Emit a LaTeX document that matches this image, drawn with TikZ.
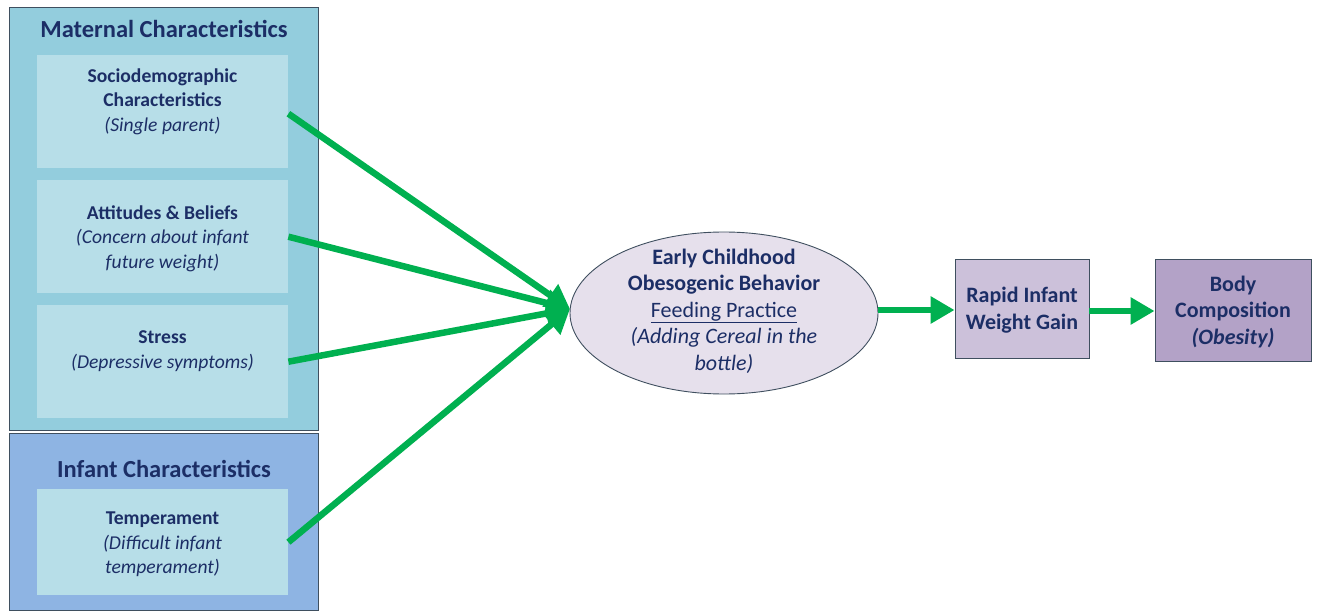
\documentclass[tikz,border=0pt]{standalone}
\usepackage{fontspec}
\setmainfont{Carlito}
\usetikzlibrary{shapes.geometric,arrows.meta}
\definecolor{navy}{HTML}{1C2E66}
\definecolor{matfill}{HTML}{93CDDD}
\definecolor{inner}{HTML}{B7DEE8}
\definecolor{inffill}{HTML}{8EB4E3}
\definecolor{ellfill}{HTML}{E6E0EC}
\definecolor{rapfill}{HTML}{CCC1DA}
\definecolor{bodyfill}{HTML}{B3A2C7}
\definecolor{edge}{HTML}{3F4F5F}
\definecolor{arrowgreen}{HTML}{00B050}
\tikzset{
  outerbox/.style={draw=edge, line width=0.9pt, inner sep=0pt, anchor=north west},
  innerbox/.style={fill=inner, inner sep=0pt, minimum width=251pt, anchor=north west},
  txt/.style={text=navy, align=center, font=\fontsize{19.6}{24.5}\selectfont},
  bigtxt/.style={txt, font=\fontsize{22}{26.5}\selectfont},
  title/.style={text=navy, font=\fontsize{24.5}{28}\selectfont\bfseries},
  garrow/.style={draw=arrowgreen, line width=6.5pt, -{Triangle[length=24pt,width=26pt]}, shorten >=0pt},
  purplebox/.style={draw=edge, line width=0.9pt, inner sep=0pt}
}
\begin{document}
\begin{tikzpicture}[x=1pt,y=-1pt]
\useasboundingbox (0,0) rectangle (1319,612);
% outer boxes
\node[outerbox, fill=matfill, minimum width=309pt, minimum height=423pt] (mat) at (9,7) {};
\node[outerbox, fill=inffill, minimum width=309pt, minimum height=177pt] (inf) at (9,433) {};
\node[title] (mattitle) at (164,29) {Maternal Characteristics};
\node[title] (inftitle) at (164,469) {Infant Characteristics};
% inner boxes
\node[innerbox, minimum height=113pt] (b1) at (37,55) {};
\node[innerbox, minimum height=113pt] (b2) at (37,180) {};
\node[innerbox, minimum height=113pt] (b3) at (37,305) {};
\node[innerbox, minimum height=106pt] (b4) at (37,489) {};
\node[txt] (t1) at (162.5,101.5) {\textbf{Sociodemographic}\\\textbf{Characteristics}\\\textit{(Single parent)}};
\node[txt] (t2) at (162.5,238.5) {\textbf{Attitudes \& Beliefs}\\\textit{(Concern about infant}\\\textit{future weight)}};
\node[txt] (t3) at (162.5,351) {\textbf{Stress}\\\textit{(Depressive symptoms)}};
\node[txt] (t4) at (162.5,544.5) {\textbf{Temperament}\\\textit{(Difficult infant}\\\textit{temperament)}};
% ellipse
\node[ellipse, draw=edge, line width=0.9pt, fill=ellfill, minimum width=308pt, minimum height=162pt, inner sep=0pt] (ell) at (724,313) {};
\node[bigtxt] (te) at (724,311) {\textbf{Early Childhood}\\\textbf{Obesogenic Behavior}\\\underline{Feeding Practice}\\\textit{(Adding Cereal in the}\\\textit{bottle)}};
% right boxes
\node[purplebox, fill=rapfill, minimum width=134pt, minimum height=99pt] (rap) at (1022,308.5) {};
\node[bigtxt] (trap) at (1022,310) {\textbf{Rapid Infant}\\\textbf{Weight Gain}};
\node[purplebox, fill=bodyfill, minimum width=156pt, minimum height=102pt] (body) at (1233,310) {};
\node[bigtxt] (tbody) at (1233,312) {\textbf{Body}\\\textbf{Composition}\\\textbf{\textit{(Obesity)}}};
% arrows
\coordinate (tip) at (570,309);
\draw[garrow] (b1.east) ++(0,2) -- (tip);
\draw[garrow] (b2.east) -- (tip);
\draw[garrow] (b3.east) -- (tip);
\draw[garrow] (b4.east) -- (tip);
\draw[garrow] (ell.east |- 0,310) -- (rap.west |- 0,310);
\draw[garrow] (rap.east |- 0,311) -- (body.west |- 0,311);
\end{tikzpicture}
\end{document}
